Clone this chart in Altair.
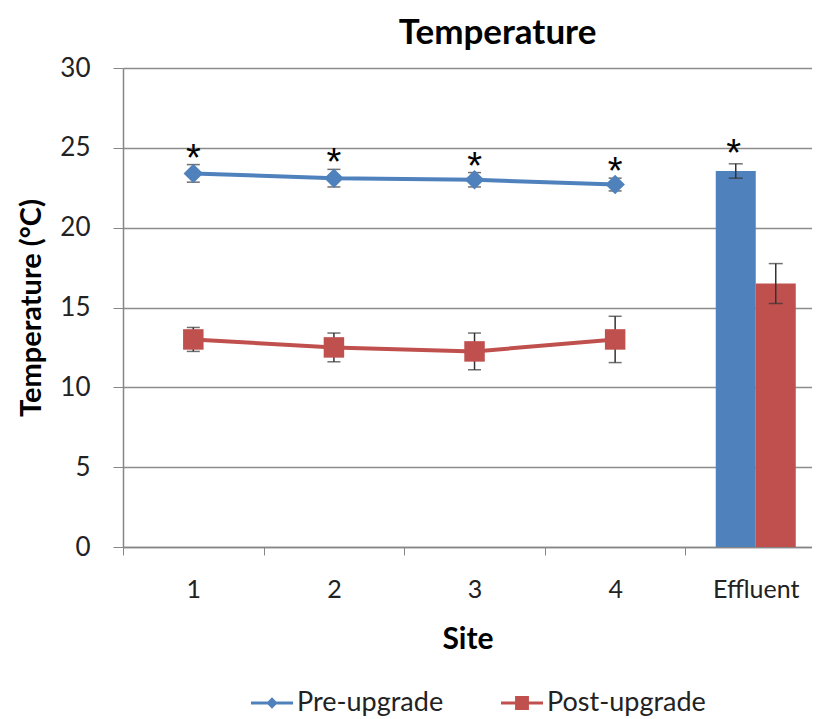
import altair as alt
import pandas as pd

series_names = ["Pre-upgrade", "Post-upgrade"]
series_colors = ["#4F81BD", "#C0504D"]
PRE_COLOR, POST_COLOR = series_colors

sites = [1, 2, 3, 4]
pre_vals = [23.4, 23.1, 23.0, 22.7]
pre_err = [0.55, 0.55, 0.45, 0.4]
post_vals = [13.0, 12.5, 12.25, 13.0]
post_err = [0.75, 0.9, 1.15, 1.45]

effluent_pos = 5
effluent_pre = 23.55
effluent_pre_err = 0.45
effluent_post = 16.5
effluent_post_err = 1.25

star_flags_pre = [True, True, True, True]

x_label_values = [0.5, 1, 1.5, 2, 2.5, 3, 3.5, 4, 4.5, 5]
y_ticks = [0, 5, 10, 15, 20, 25, 30]

FONT = "Lato"

pre_df = pd.DataFrame({"site": sites, "value": pre_vals, "err": pre_err})
post_df = pd.DataFrame({"site": sites, "value": post_vals, "err": post_err})

eff_pre_df = pd.DataFrame({"site": [effluent_pos], "value": [effluent_pre], "err": [effluent_pre_err]})
eff_post_df = pd.DataFrame({"site": [effluent_pos], "value": [effluent_post], "err": [effluent_post_err]})

stars = []
for s, v, e, f in zip(sites, pre_vals, pre_err, star_flags_pre):
    if f:
        stars.append({"site": s, "top": v + e})
stars_df = pd.DataFrame(stars)
eff_star_df = pd.DataFrame([{"site": effluent_pos, "top": effluent_pre + effluent_pre_err}])

legend_df = pd.DataFrame({"series": series_names})

x_enc = alt.X(
    "site:Q",
    scale=alt.Scale(domain=[0.5, 5.4], nice=False, zero=False, padding=0),
    axis=alt.Axis(
        values=x_label_values,
        labelExpr="datum.value == 5 ? 'Effluent' : (datum.value % 1 == 0 ? datum.value : '')",
        tickOpacity=alt.ExprRef("datum.value % 1 == 0 ? 0 : 1"),
        grid=False,
        title="Site",
        tickSize=8,
        tickColor="#868686",
        domainColor="#868686",
        domainWidth=1.5,
        labelFontSize=25,
        labelFont=FONT,
        labelColor="#222222",
        labelPadding=22,
        titleFontSize=30,
        titleFont=FONT,
        titleFontWeight="bold",
        titleColor="#000000",
        titlePadding=22,
        labelFlush=False,
    ),
)

y_enc = alt.Y(
    "value:Q",
    scale=alt.Scale(domain=[0, 30], nice=False, padding=0),
    axis=alt.Axis(
        values=y_ticks,
        grid=True,
        gridColor="#8c8c8c",
        gridWidth=1.3,
        domainColor="#868686",
        domainWidth=1.5,
        tickColor="#868686",
        tickSize=10,
        labelFontSize=26,
        labelFont=FONT,
        labelColor="#222222",
        labelPadding=23,
        title="Temperature (°C)",
        titleFontSize=29,
        titleFont=FONT,
        titleFontWeight="bold",
        titleColor="#000000",
        titlePadding=13,
    ),
)


def series_layers(df, color, shape, size):
    base = alt.Chart(df).transform_calculate(
        lo="datum.value - datum.err", hi="datum.value + datum.err"
    )
    rules = base.mark_rule(color="#333333", strokeWidth=1.5).encode(
        x=x_enc, y=alt.Y("lo:Q"), y2="hi:Q"
    )
    caps = base.transform_fold(["lo", "hi"], as_=["k", "cap"]).mark_tick(
        orient="horizontal", color="#333333", size=13, thickness=1.5
    ).encode(x=x_enc, y=alt.Y("cap:Q"))
    ln = base.mark_line(strokeWidth=4, color=color).encode(x=x_enc, y=y_enc)
    pts = base.mark_point(shape=shape, filled=True, size=size, opacity=1, color=color).encode(
        x=x_enc, y=y_enc
    )
    return [rules, caps, ln, pts]


def bar_layers(df, color, off):
    base = alt.Chart(df).transform_calculate(
        lo="datum.value - datum.err", hi="datum.value + datum.err"
    )
    bar = base.mark_bar(width=40, xOffset=off, color=color).encode(x=x_enc, y=y_enc)
    rule = base.mark_rule(color="#333333", strokeWidth=1.5, xOffset=off).encode(
        x=x_enc, y=alt.Y("lo:Q"), y2="hi:Q"
    )
    caps = base.transform_fold(["lo", "hi"], as_=["k", "cap"]).mark_tick(
        orient="horizontal", color="#333333", size=14, thickness=1.5, xOffset=off
    ).encode(x=x_enc, y=alt.Y("cap:Q"))
    return [bar, rule, caps]


star_text = alt.Chart(stars_df).mark_text(
    text="*", font="Liberation Sans", fontSize=38, dy=6, baseline="alphabetic", color="#000000"
).encode(x=x_enc, y=alt.Y("top:Q"))

eff_star = alt.Chart(eff_star_df).mark_text(
    text="*", font="Liberation Sans", fontSize=38, dy=2, baseline="alphabetic", color="#000000", xOffset=-22
).encode(x=x_enc, y=alt.Y("top:Q"))

pre_path = "M-1,-0.07H1V0.07H-1Z M0,-0.27L0.27,0L0,0.27L-0.27,0Z"
post_path = "M-1,-0.07H1V0.07H-1Z M-0.33,-0.33H0.33V0.33H-0.33Z"

leg = alt.Legend(
    orient="none",
    legendX=128,
    legendY=614,
    direction="horizontal",
    title=None,
    symbolSize=1764,
    symbolOpacity=1,
    symbolStrokeWidth=0,
    labelFontSize=27,
    labelFont=FONT,
    labelColor="#222222",
    labelOffset=4,
    columnPadding=57,
)

legend_layer = alt.Chart(legend_df).mark_point(filled=True, size=0, opacity=1).encode(
    color=alt.Color("series:N", scale=alt.Scale(domain=series_names, range=series_colors), legend=leg),
    shape=alt.Shape("series:N", scale=alt.Scale(domain=series_names, range=[pre_path, post_path]), legend=leg),
)

layers = (
    bar_layers(eff_pre_df, PRE_COLOR, -20)
    + bar_layers(eff_post_df, POST_COLOR, 20)
    + series_layers(pre_df, PRE_COLOR, "diamond", 380)
    + series_layers(post_df, POST_COLOR, "square", 420)
    + [star_text, eff_star, legend_layer]
)

chart = alt.layer(*layers).properties(
    width=689,
    height=479,
    title=alt.TitleParams(
        "Temperature", font=FONT, fontSize=35, fontWeight="bold", color="#000000", dx=30, offset=4
    ),
    padding={"left": 9, "top": 8, "right": 0, "bottom": 0},
).configure_view(stroke=None)

chart.save("out.html", embed_options={"renderer": "svg", "actions": False})
